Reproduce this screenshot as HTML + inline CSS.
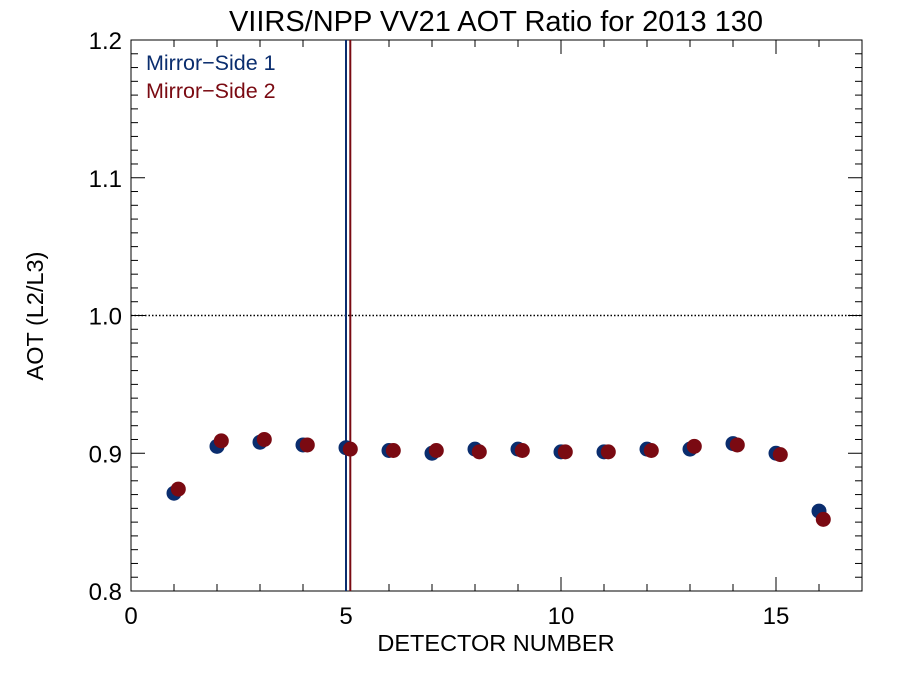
<!DOCTYPE html>
<html><head><meta charset="utf-8"><style>
body{margin:0;background:#fff}
svg text{font-family:"Liberation Sans",sans-serif}
</style></head><body>
<svg id="chart" width="900" height="675" xmlns="http://www.w3.org/2000/svg">
<text x="496" y="31" font-size="29" text-anchor="middle">VIIRS/NPP VV21 AOT Ratio for 2013 130</text>
<text x="496" y="651" font-size="23.5" text-anchor="middle">DETECTOR NUMBER</text>
<text x="0" y="0" font-size="23.5" text-anchor="middle" transform="translate(43,316) rotate(-90)">AOT (L2/L3)</text>
<text x="146" y="70" font-size="21.5" fill="#0a2d6e">Mirror−Side 1</text>
<text x="146" y="98" font-size="21.5" fill="#7a0a12">Mirror−Side 2</text>
<g id="g"></g>
</svg>
<script>
const detectors=[1,2,3,4,5,6,7,8,9,10,11,12,13,14,15,16];
const ms1=[0.871,0.905,0.908,0.906,0.904,0.902,0.900,0.903,0.903,0.901,0.901,0.903,0.903,0.907,0.900,0.858];
const ms2=[0.874,0.909,0.910,0.906,0.903,0.902,0.902,0.901,0.902,0.901,0.901,0.902,0.905,0.906,0.899,0.852];
const ms2Offset=0.1;
const xTicks=[0,5,10,15];
const yTicks=[0.8,0.9,1.0,1.1,1.2];
const vlineMs1=5, vlineMs2=5.1, refLine=1.0;
const X0=131,X1=862,Y0=591,Y1=40,xmin=0,xmax=17,ymin=0.8,ymax=1.2;
const xs=v=>X0+(v-xmin)/(xmax-xmin)*(X1-X0);
const ys=v=>Y0-(v-ymin)/(ymax-ymin)*(Y0-Y1);
const g=document.getElementById('g');const NS='http://www.w3.org/2000/svg';
function mk(t,a){const e=document.createElementNS(NS,t);for(const k in a)e.setAttribute(k,a[k]);g.appendChild(e);return e;}
let e;
e=mk('rect',{x:X0,y:Y1,width:X1-X0,height:Y0-Y1,fill:'none',stroke:'#000','stroke-width':1});


for(let v=1;v<xmax;v++){
 const big=v%5===0,L=big?14:7;
 e=mk('line',{x1:xs(v),x2:xs(v),y1:Y0,y2:Y0-L,stroke:'#000'});
 
 
 e=mk('line',{x1:xs(v),x2:xs(v),y1:Y1,y2:Y1+L,stroke:'#000'});
 
 
}
for(let i=1;i<40;i++){
 const v=ymin+i*0.01,big=i%10===0,L=big?14:7;
 e=mk('line',{x1:X0,x2:X0+L,y1:ys(v),y2:ys(v),stroke:'#000'});
 
 
 e=mk('line',{x1:X1,x2:X1-L,y1:ys(v),y2:ys(v),stroke:'#000'});
 
 
}
xTicks.forEach(v=>{e=mk('text',{x:xs(v),y:Y0+33,'font-size':24,'text-anchor':'middle'});e.textContent=String(v);
 
 });
yTicks.forEach(v=>{e=mk('text',{x:X0-9,y:ys(v)+9,'font-size':24,'text-anchor':'end'});e.textContent=v.toFixed(1);
 
 });
e=mk('line',{x1:X0,x2:X1,y1:ys(refLine),y2:ys(refLine),stroke:'#000','stroke-dasharray':'1.5,2','stroke-width':1.4});


e=mk('line',{x1:xs(vlineMs1),x2:xs(vlineMs1),y1:Y1,y2:Y0,stroke:'#0a2d6e','stroke-width':2});


e=mk('line',{x1:xs(vlineMs2),x2:xs(vlineMs2),y1:Y1,y2:Y0,stroke:'#7a0a12','stroke-width':2});


detectors.forEach((d,i)=>{
 e=mk('circle',{cx:xs(d),cy:ys(ms1[i]),r:7.5,fill:'#0a2d6e'});
 
 
});
detectors.forEach((d,i)=>{
 e=mk('circle',{cx:xs(d+ms2Offset),cy:ys(ms2[i]),r:7.5,fill:'#7a0a12'});
 
 
});
</script>
</body></html>
